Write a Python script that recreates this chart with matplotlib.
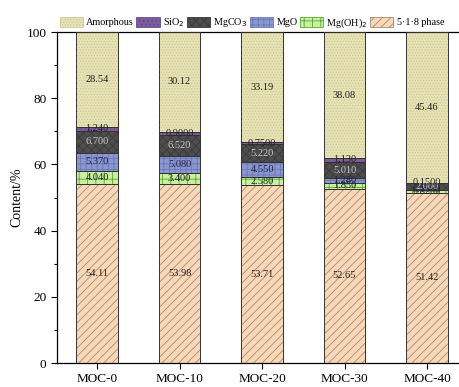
import matplotlib
matplotlib.use("Agg")
import matplotlib.pyplot as plt
import numpy as np
from matplotlib.patches import Patch

plt.rcParams['font.family'] = ['Liberation Serif', 'DejaVu Serif']
plt.rcParams['hatch.linewidth'] = 0.6

samples = ["MOC-0", "MOC-10", "MOC-20", "MOC-30", "MOC-40"]

# phase contents (%), stacked bottom to top
phase_518 = [54.11, 53.98, 53.71, 52.65, 51.42]
mg_oh2 = [4.040, 3.400, 2.580, 1.850, 0.8200]
mgo = [5.370, 5.080, 4.550, 1.280, 0.1500]
mgco3 = [6.700, 6.520, 5.220, 5.010, 2.000]
sio2 = [1.240, 0.9000, 0.7500, 1.130, 0.1500]
amorphous = [28.54, 30.12, 33.19, 38.08, 45.46]

series = [
    ("5·1·8 phase", phase_518, "#f9d8b8", "#a88a72", "////", "#222222"),
    ("Mg(OH)$_2$", mg_oh2, "#c9f0a2", "#5aa832", "++", "#222222"),
    ("MgO", mgo, "#8b97cf", "#6c78b6", "+++", "#222244"),
    ("MgCO$_3$", mgco3, "#4d4d4d", "#3a3a3a", "xxxx", "#c8c8c8"),
    ("SiO$_2$", sio2, "#7a5c9c", "#654b86", "....", "#222222"),
    ("Amorphous", amorphous, "#e7e3b4", "#cdc898", "......", "#222222"),
]

fig = plt.figure(figsize=(4.6, 3.87), dpi=100)
ax = fig.add_axes([0.124, 0.062, 0.876, 0.855])

x = np.arange(len(samples))
width = 0.5
bottom = np.zeros(len(samples))
handles = []
for name, vals, face, hcol, hatch, tcol in series:
    vals = np.array(vals)
    ax.bar(x, vals, width, bottom=bottom, color=face, edgecolor="#333333",
           linewidth=0.6, zorder=2)
    ax.bar(x, vals, width, bottom=bottom, facecolor="none", edgecolor=hcol,
           hatch=hatch, linewidth=0, zorder=3)
    ax.bar(x, vals, width, bottom=bottom, facecolor="none", edgecolor="#333333",
           linewidth=0.6, zorder=4)
    for xi, b, v in zip(x, bottom, vals):
        ax.text(xi, b + v / 2, "%#.4g" % v, ha="center", va="center",
                fontsize=7.5, color=tcol, zorder=5)
    handles.append(Patch(facecolor=face, edgecolor=hcol, hatch=hatch,
                         linewidth=0.6, label=name))
    bottom = bottom + vals

# legend across the top, Amorphous first
leg = ax.legend(handles=handles[::-1], loc="lower left",
                bbox_to_anchor=(0.0, 1.0), ncol=6, frameon=False,
                fontsize=7.3, handlelength=2.3, handleheight=1.15,
                handletextpad=0.3, columnspacing=0.25, borderaxespad=0.15,
                borderpad=0.1)

ax.set_xlim(-0.485, 4.4)
ax.set_ylim(0, 100)
ax.set_xticks(x)
ax.set_xticklabels(samples, fontsize=9.5)
ax.set_yticks(np.arange(0, 101, 20))
ax.set_yticks(np.arange(10, 100, 20), minor=True)
ax.tick_params(axis="y", which="major", direction="out", length=4, width=0.8,
               labelsize=9.5)
ax.tick_params(axis="y", which="minor", direction="out", length=2.5, width=0.8)
ax.tick_params(axis="x", direction="out", length=4, width=0.8)
ax.set_ylabel("Content/%", fontsize=10, labelpad=2)
ax.spines["right"].set_visible(False)
for sp in ("left", "bottom", "top"):
    ax.spines[sp].set_linewidth(0.9)

fig.savefig("out.png", dpi=100)
